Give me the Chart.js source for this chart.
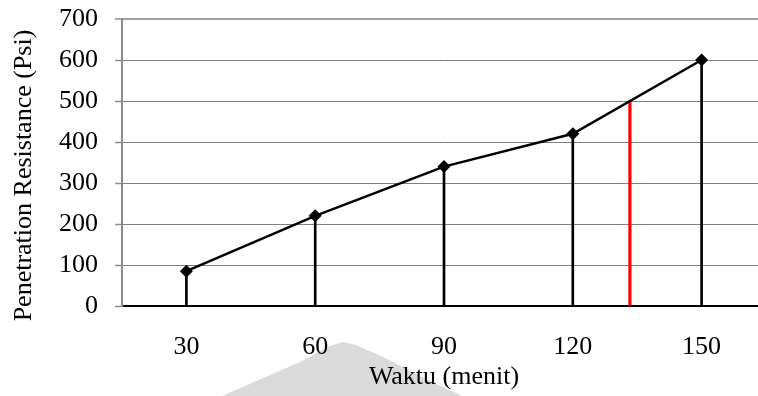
<!DOCTYPE html>
<html>
<head>
<meta charset="utf-8">
<title>Penetration Resistance vs Waktu</title>
<script src="https://cdn.jsdelivr.net/npm/chart.js@4/dist/chart.umd.min.js"></script>
<style>
  html, body { margin: 0; padding: 0; background: #ffffff; }
  #wrap { position: relative; width: 758px; height: 396px; overflow: hidden; background: #ffffff; }
  #mark {
    position: absolute; left: 0; top: 0; width: 758px; height: 396px; z-index: 0;
    background: #dadada;
    clip-path: polygon(222px 396px, 300px 362px, 330px 346px, 343px 342px, 356px 345px, 385px 358px, 420px 376px, 462px 396px);
  }
  #chart { position: absolute; left: 0; top: 0; z-index: 1; }
</style>
</head>
<body>
<div id="wrap">
  <div id="mark"></div>
  <canvas id="chart" width="766" height="396"></canvas>
</div>
<script>
// Penetration resistance (Psi) measured at each time (menit)
const times = [30, 60, 90, 120, 150];
const resistance = [85, 220, 340, 420, 600];

// Time at which resistance reaches 500 Psi
const markTime = [133.3];
const markValue = [500];

const yTicks = [0, 100, 200, 300, 400, 500, 600, 700];
const yTitle = 'Penetration Resistance (Psi)';

const FONT = { family: '"Liberation Serif", "Times New Roman", serif', size: 26 };

const points = times.map((t, i) => ({ x: t, y: resistance[i] }));
const markPoints = markTime.map((t, i) => ({ x: t, y: markValue[i] }));

// Vertical axis title, set slightly below the middle of the plot
const yTitlePlugin = {
  id: 'yTitle',
  afterDraw(chart) {
    const { ctx, chartArea } = chart;
    ctx.save();
    ctx.translate(24, (chartArea.top + chartArea.bottom) / 2 + 13);
    ctx.rotate(-Math.PI / 2);
    ctx.font = `${FONT.size}px ${FONT.family}`;
    ctx.fillStyle = '#000000';
    ctx.textAlign = 'center';
    ctx.textBaseline = 'middle';
    ctx.fillText(yTitle, 0, 0);
    ctx.restore();
  }
};

new Chart(document.getElementById('chart'), {
  type: 'line',
  data: {
    datasets: [
      {
        type: 'line',
        data: points,
        borderColor: '#000000',
        borderWidth: 2.5,
        tension: 0,
        pointStyle: 'rectRot',
        pointRadius: 6.5,
        pointBackgroundColor: '#000000',
        pointBorderColor: '#000000',
        pointBorderWidth: 0,
        clip: false,
        order: 0
      },
      {
        type: 'bar',
        data: points,
        backgroundColor: '#000000',
        barThickness: 2,
        grouped: false,
        order: 1
      },
      {
        type: 'bar',
        data: markPoints,
        backgroundColor: '#ff0000',
        barThickness: 2.5,
        grouped: false,
        order: 1
      }
    ]
  },
  plugins: [yTitlePlugin],
  options: {
    responsive: false,
    animation: false,
    layout: { autoPadding: false, padding: { top: 19, left: 0, right: 0, bottom: 0 } },
    plugins: { legend: { display: false }, tooltip: { enabled: false } },
    scales: {
      x: {
        type: 'linear',
        min: 15,
        max: 165,
        offset: false,
        afterBuildTicks: (axis) => { axis.ticks = times.map(v => ({ value: v })); },
        afterFit: (axis) => { axis.height = 90; axis.paddingLeft = 0; axis.paddingRight = 0; },
        grid: { display: true, drawOnChartArea: false, drawTicks: false },
        border: { display: true, color: '#000000', width: 2 },
        ticks: { color: '#000000', font: FONT, padding: 26, maxRotation: 0, autoSkip: false },
        title: {
          display: true,
          text: 'Waktu (menit)',
          color: '#000000',
          font: FONT,
          padding: { top: 0, bottom: 3 }
        }
      },
      y: {
        min: 0,
        max: 700,
        afterBuildTicks: (axis) => { axis.ticks = yTicks.map(v => ({ value: v })); },
        afterFit: (axis) => { axis.width = 122; axis.paddingTop = 0; axis.paddingBottom = 0; },
        grid: {
          color: (ctx) => ctx.tick && ctx.tick.value === 0 ? '#000000' : (ctx.tick && ctx.tick.value === 700 ? '#a0a0a0' : '#7f7f7f'),
          lineWidth: (ctx) => ctx.tick && ctx.tick.value === 700 ? 2 : 1,
          tickColor: '#8c8c8c',
          tickLength: 7,
          tickWidth: 1.5
        },
        border: { display: true, color: '#8c8c8c', width: 2 },
        ticks: { color: '#000000', font: FONT, padding: 17 },
        title: { display: false }
      }
    }
  }
});
</script>
</body>
</html>
